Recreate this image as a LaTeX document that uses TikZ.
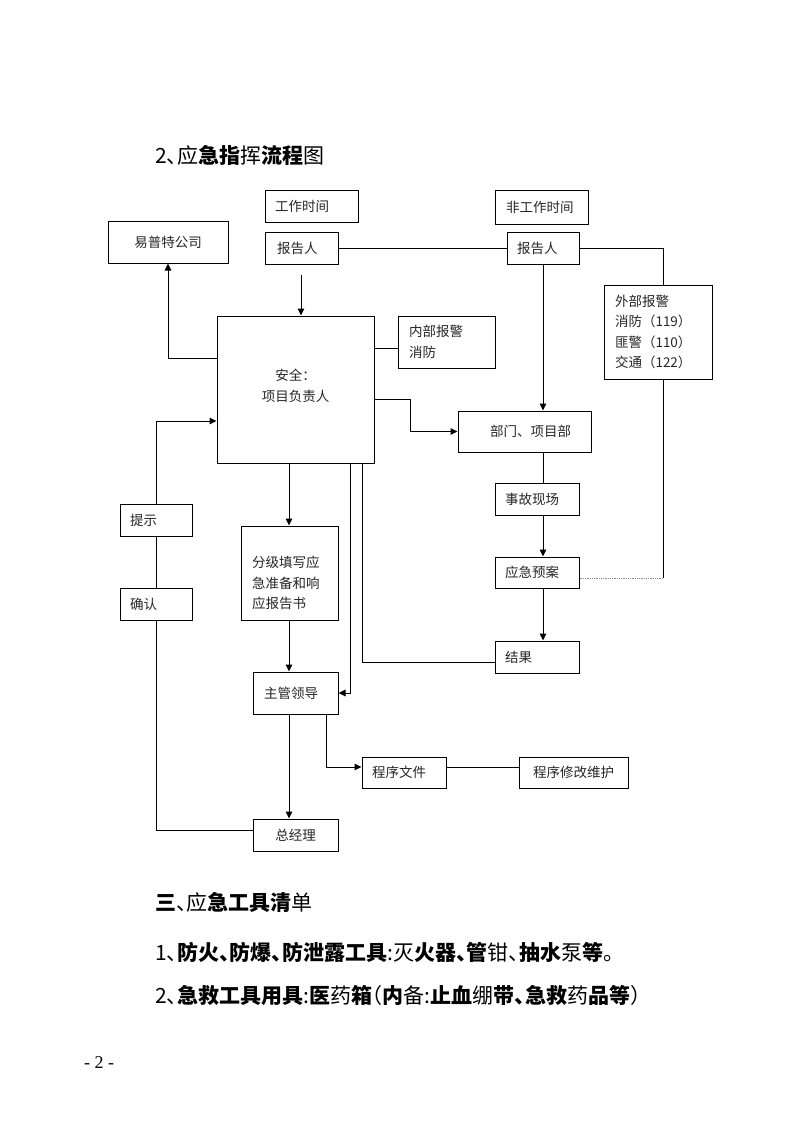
\documentclass[tikz,border=0pt]{standalone}
\usepackage{fontspec}
\setmainfont{Noto Sans CJK SC}
\newfontfamily\hfont[RawFeature=+halt]{Noto Sans CJK SC}
\newfontfamily\numfont{Liberation Serif}
\usetikzlibrary{arrows.meta,calc}
\begin{document}
\begin{tikzpicture}[x=1pt,y=-1pt,
  box/.style={draw=black, line width=1pt, fill=white, inner ysep=0pt,
    font=\fontsize{13.5}{20.5}\selectfont, text=black!85},
  cbox/.style={box, align=center},
  lbox/.style={box, align=left},
  ln/.style={line width=1pt},
  arr/.style={line width=1pt, -{Triangle[length=7pt,width=6.5pt]}},
  head/.style={anchor=west, inner sep=0pt, font=\hfont\fontsize{21}{25}\selectfont},
]
\useasboundingbox (0,0) rectangle (800,1132);

% title
\node[head] (title) at (155,155) {2、应\textbf{急指}挥\textbf{流程}图};

% boxes
\node[lbox, text width=73pt, inner xsep=10pt, minimum height=32pt] (work) at (311.5,206) {工作时间};
\node[cbox, minimum width=120pt, minimum height=42pt] (ypt) at (168,242) {易普特公司};
\node[lbox, text width=49pt, inner xsep=12pt, minimum height=32pt] (rep1) at (301.5,248) {报告人};
\node[lbox, text width=71pt, inner xsep=11pt, minimum height=34pt] (nonwork) at (541.5,207) {非工作时间};
\node[lbox, text width=52pt, inner xsep=10pt, minimum height=32pt] (rep2) at (543,248) {报告人};
\node[lbox, text width=86pt, inner xsep=11pt, minimum height=94pt] (ext) at (658,332) {外部报警\\消防（119）\\匪警（110）\\交通（122）};
\node[cbox, minimum width=157pt, minimum height=147pt, text depth=8pt] (safety) at (295.5,389.5) {安全：\\项目负责人};
\node[lbox, text width=75pt, inner xsep=11pt, minimum height=52pt] (internal) at (446.5,342) {内部报警\\消防};
\node[cbox, minimum width=133pt, minimum height=41pt] (dept) at (524.5,431.5) {\hspace*{12pt}部门、项目部};
\node[lbox, text width=64pt, inner xsep=10pt, minimum height=32pt] (scene) at (537,499) {事故现场};
\node[lbox, text width=64pt, inner xsep=10pt, minimum height=31pt] (plan) at (537,572.5) {应急预案};
\node[lbox, text width=64pt, inner xsep=10pt, minimum height=32pt] (result) at (537,657) {结果};
\node[lbox, text width=75pt, inner xsep=11pt, minimum height=94pt, text depth=22pt] (fill) at (289.5,573) {分级填写应\\急准备和响\\应报告书};
\node[lbox, text width=63pt, inner xsep=11pt, minimum height=42pt] (boss) at (295.5,693) {主管领导};
\node[cbox, minimum width=85pt, minimum height=32pt] (gm) at (295.5,835) {总经理};
\node[lbox, text width=64pt, inner xsep=10pt, minimum height=31pt] (doc) at (404,772.5) {程序文件};
\node[cbox, minimum width=109pt, minimum height=31pt] (maint) at (573.5,772.5) {程序修改维护};
\node[lbox, text width=52pt, inner xsep=10pt, minimum height=32pt] (hint) at (156,520) {提示};
\node[lbox, text width=52pt, inner xsep=10pt, minimum height=32pt] (confirm) at (156,604) {确认};

% helper coordinates
\coordinate (xR) at (663,0);
\coordinate (xC) at (410,0);
\coordinate (xB) at (350,0);
\coordinate (xA) at (362,0);
\coordinate (xD) at (326,0);
\coordinate (xM) at (543,0);
\coordinate (xF) at (289,0);
\coordinate (xT) at (301,0);
\coordinate (yY) at (0,358);
\coordinate (yI) at (0,348);
\coordinate (yP) at (0,399);
\coordinate (yQ) at (0,578);
\coordinate (yR) at (0,662);
\coordinate (yS) at (0,767);
\coordinate (yG) at (0,830);
\coordinate (yH) at (0,421);

% connectors
\draw[ln] (rep1.east) -- (rep2.west);
\draw[ln] (rep2.east) -| (xR |- ext.north);
\draw[ln] (xR |- ext.south) -- (xR |- yQ);
\draw[densely dotted, black!45, line width=0.8pt] (xR |- yQ) -- (plan.east |- yQ);
\draw[arr, shorten <=10pt] (xT |- rep1.south) -- (xT |- safety.north);
\draw[arr] (safety.west |- yY) -| (ypt.south);
\draw[ln] (safety.east |- yI) -- (internal.west |- yI);
\draw[arr] (safety.east |- yP) -- (xC |- yP) |- (dept.west);
\draw[arr] (xM |- rep2.south) -- (xM |- dept.north);
\draw[ln] (xM |- dept.south) -- (xM |- scene.north);
\draw[arr] (xM |- scene.south) -- (xM |- plan.north);
\draw[arr] (xM |- plan.south) -- (xM |- result.north);
\draw[ln] (result.west |- yR) -| (xA |- safety.south);
\draw[arr] (xB |- safety.south) |- (boss.east);
\draw[arr] (xF |- safety.south) -- (xF |- fill.north);
\draw[arr] (xF |- fill.south) -- (xF |- boss.north);
\draw[arr] (xF |- boss.south) -- (xF |- gm.north);
\draw[arr] (xD |- boss.south) |- (doc.west |- yS);
\draw[ln] (doc.east |- yS) -- (maint.west |- yS);
\draw[ln] (gm.west |- yG) -| (confirm.south);
\draw[ln] (confirm.north) -- (hint.south);
\draw[arr] (hint.north) |- (safety.west |- yH);

% text below
\node[head] (sec3) at (155,902) {\textbf{三}、应\textbf{急工具清}单};
\node[head] (item1) at (155,952) {1、\textbf{防火、防爆、防泄露工具}:灭\textbf{火器、管}钳、\textbf{抽水}泵\textbf{等}。};
\node[head] (item2) at (155,995) {2、\textbf{急救工具用具}:\textbf{医}药\textbf{箱}（\textbf{内}备:\textbf{止血}绷\textbf{带、急救}药\textbf{品等}）};
\node[anchor=center, inner sep=0pt, font=\numfont\fontsize{18}{20}\selectfont] (pageno) at (99,1063) {- 2 -};
\end{tikzpicture}
\end{document}
